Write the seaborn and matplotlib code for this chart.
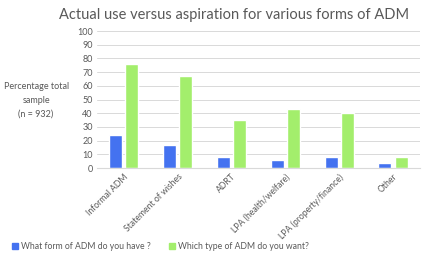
import matplotlib
matplotlib.use("Agg")
import matplotlib.pyplot as plt
import seaborn as sns
import pandas as pd

categories = ["Informal ADM", "Statement of wishes", "ADRT", "LPA (health/welfare)",
              "LPA (property/finance)", "Other"]
have = [24, 17, 8, 6, 8, 4]
want = [76, 67, 35, 43, 40, 8]
series = ["What form of ADM do you have ?", "Which type of ADM do you want?"]
yticks = list(range(0, 101, 10))

df = pd.DataFrame({
    "cat": categories * 2,
    "val": have + want,
    "series": [series[0]] * len(categories) + [series[1]] * len(categories),
})

sns.set_style("white")
plt.rcParams["font.family"] = ["Lato", "DejaVu Sans"]

fig = plt.figure(figsize=(4.25, 2.65), dpi=100)
ax = fig.add_axes([0.228, 0.366, 0.76, 0.517])
sns.barplot(data=df, x="cat", y="val", hue="series",
            palette=["#4472F0", "#A3EE6C"], width=0.6, gap=0.2,
            ax=ax, legend=False, saturation=1)

ax.set_ylim(0, 100)
ax.set_yticks(yticks)
ax.set_yticklabels([str(t) for t in yticks], fontsize=6.5, color="#595959")
ax.yaxis.grid(True, color="#D9D9D9", linewidth=0.7)
ax.set_axisbelow(True)
for s in ["top", "right", "left"]:
    ax.spines[s].set_visible(False)
ax.spines["bottom"].set_color("#D9D9D9")
ax.tick_params(axis="both", length=0, pad=3)
ax.set_xlabel("")
ax.set_ylabel("")
ax.set_xticks(range(len(categories)))
ax.set_xticklabels(categories, rotation=45, ha="right", rotation_mode="anchor",
                   fontsize=6.2, color="#595959")

fig.text(0.55, 0.945, "Actual use versus aspiration for various forms of ADM",
         ha="center", va="center", fontsize=10.5, color="#595959")
fig.text(0.085, 0.622, "Percentage total\nsample\n(n = 932)", ha="center", va="center",
         fontsize=6.5, color="#595959", linespacing=1.65)

from matplotlib.patches import Patch
handles = [Patch(color="#4472F0"), Patch(color="#A3EE6C")]
fig.legend(handles, series, loc="center left", bbox_to_anchor=(0.01, 0.07), ncol=2,
           frameon=False, fontsize=6.2, handlelength=0.7, handleheight=0.7,
           handletextpad=0.3, columnspacing=2.2, labelcolor="#595959")

fig.savefig("out.png", dpi=100)
